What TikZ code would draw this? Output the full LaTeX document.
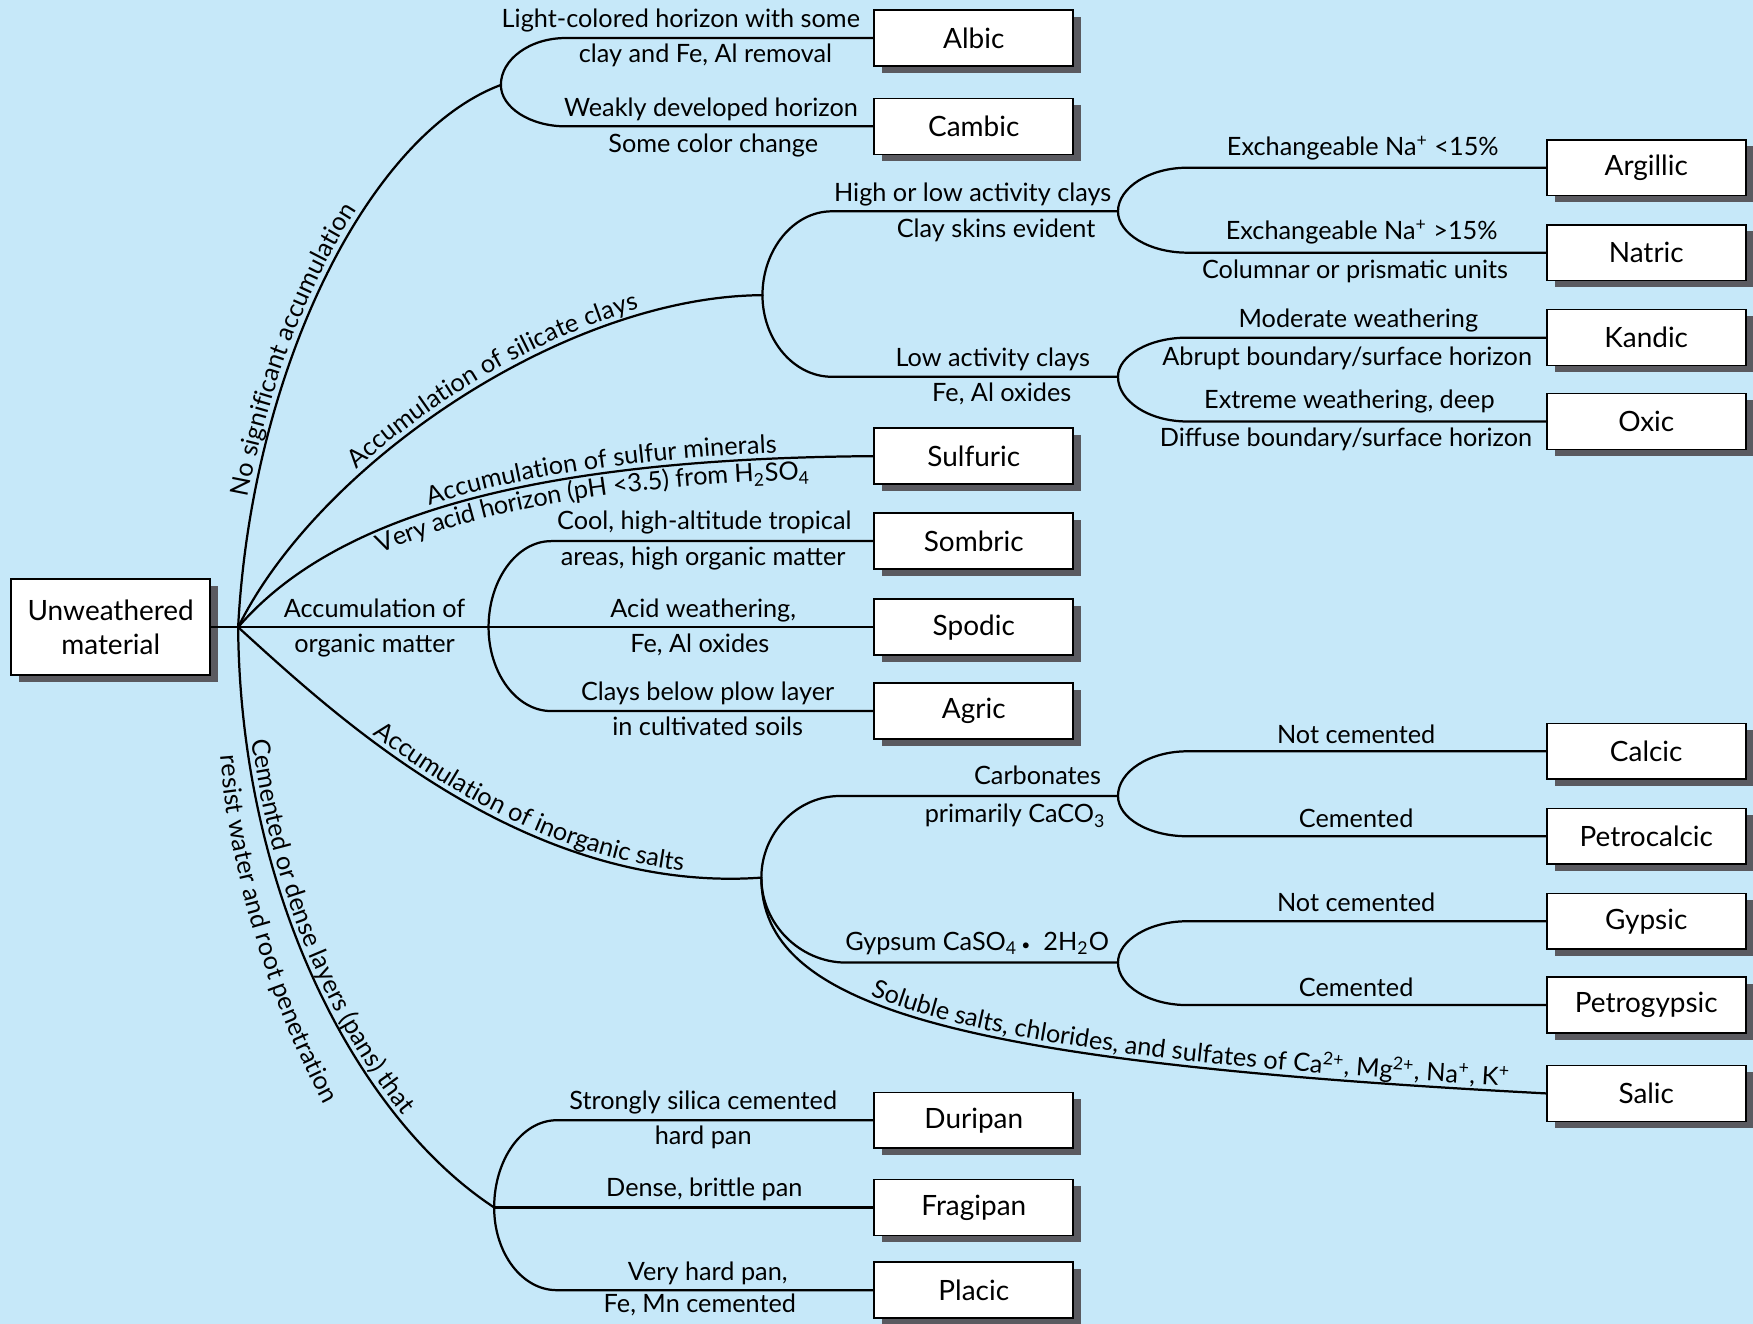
\documentclass[tikz,border=0pt]{standalone}
\usepackage{fontspec}
\setmainfont{Lato}
\usetikzlibrary{shadows,decorations.text}
\definecolor{bgblue}{RGB}{198,232,249}
\definecolor{shadowgray}{RGB}{90,90,96}
\newcommand\lblsize{\fontsize{11.3}{13}\selectfont}
\newcommand\boxsize{\fontsize{12.5}{15}\selectfont}

\begin{document}
\begin{tikzpicture}[x=0.5pt,y=-0.5pt,
  hbox/.style={draw=black, line width=0.7pt, fill=white, inner sep=0pt,
    minimum width=89pt, minimum height=25pt, font=\boxsize, align=center,
    drop shadow={shadow xshift=3.5pt, shadow yshift=-3pt, fill=shadowgray, opacity=1}},
  lbl/.style={font=\lblsize, inner sep=0pt, anchor=base},
  conn/.style={line width=1pt, line cap=round},
  alongabove/.style 2 args={decorate, decoration={text along path,
    text={|\lblsize|#2}, text align={left indent=#1}, raise=2.5pt}},
  alongbelow/.style 2 args={decorate, decoration={text along path,
    text={|\lblsize|#2}, text align={left indent=#1}, raise=-10pt}}
]
% background
\fill[bgblue] (0,0) rectangle (1568,1184);

% ---------- boxes ----------
\node[hbox, minimum height=43pt] (root) at (99,561) {Unweathered\\material};

\node[hbox] (albic)    at (871,34)   {Albic};
\node[hbox] (cambic)   at (871,113)  {Cambic};
\node[hbox] (sulfuric) at (871,408)  {Sulfuric};
\node[hbox] (sombric)  at (871,484)  {Sombric};
\node[hbox] (spodic)   at (871,561)  {Spodic};
\node[hbox] (agric)    at (871,636)  {Agric};
\node[hbox] (duripan)  at (871,1002) {Duripan};
\node[hbox] (fragipan) at (871,1080) {Fragipan};
\node[hbox] (placic)   at (871,1154) {Placic};

\node[hbox] (argillic)    at (1472.5,150) {Argillic};
\node[hbox] (natric)      at (1472.5,226) {Natric};
\node[hbox] (kandic)      at (1472.5,302) {Kandic};
\node[hbox] (oxic)        at (1472.5,377) {Oxic};
\node[hbox] (calcic)      at (1472.5,672) {Calcic};
\node[hbox] (petrocalcic) at (1472.5,748) {Petrocalcic};
\node[hbox] (gypsic)      at (1472.5,824) {Gypsic};
\node[hbox] (petrogypsic) at (1472.5,899) {Petrogypsic};
\node[hbox] (salic)       at (1472.5,978) {Salic};

% ---------- junctions ----------
\coordinate (hub) at (213,561);
\coordinate (fA) at (448,76);
\coordinate (fB) at (682,264);
\coordinate (fC) at (1000,189);
\coordinate (fD) at (1000,337);
\coordinate (fE) at (437,561);
\coordinate (fF) at (681,785);
\coordinate (fG) at (1000,712);
\coordinate (fH) at (1000,861);
\coordinate (fI) at (442,1080);

% ---------- main branches from the hub ----------
\draw[conn] (root.east) -- (hub) -- (fE) -- (spodic.west);
\draw[conn] (hub) .. controls (225,330) and (330,120) .. (fA);
\draw[conn] (hub) .. controls (285,415) and (505,265) .. (fB);
\draw[conn] (hub) .. controls (300,460) and (480,410) .. (sulfuric.west);
\draw[conn] (hub) .. controls (300,640) and (470,800) .. (fF);
\draw[conn] (hub) .. controls (215,800) and (320,1000) .. (fI);
\draw[conn] (fF) .. controls (681,900) and (850,950) .. (salic.west);

% ---------- forks ----------
\draw[conn] (fA) .. controls (448,53) and (474,34) .. (506,34) -- (albic.west);
\draw[conn] (fA) .. controls (448,96) and (474,113) .. (506,113) -- (cambic.west);

\draw[conn] (fB) .. controls (682,223) and (710,189) .. (744,189) -- (fC);
\draw[conn] (fB) .. controls (682,304) and (710,337) .. (744,337) -- (fD);
\draw[conn] (fC) .. controls (1000,168) and (1028,150) .. (1062,150) -- (argillic.west);
\draw[conn] (fC) .. controls (1000,209) and (1028,226) .. (1062,226) -- (natric.west);
\draw[conn] (fD) .. controls (1000,318) and (1028,302) .. (1062,302) -- (kandic.west);
\draw[conn] (fD) .. controls (1000,359) and (1028,377) .. (1062,377) -- (oxic.west);

\draw[conn] (fE) .. controls (437,519) and (462,484) .. (493,484) -- (sombric.west);
\draw[conn] (fE) .. controls (437,602) and (462,636) .. (493,636) -- (agric.west);

\draw[conn] (fF) .. controls (681,745) and (713,712) .. (751,712) -- (fG);
\draw[conn] (fF) .. controls (681,826) and (715,861) .. (757,861) -- (fH);
\draw[conn] (fG) .. controls (1000,690) and (1028,672) .. (1062,672) -- (calcic.west);
\draw[conn] (fG) .. controls (1000,732) and (1028,748) .. (1062,748) -- (petrocalcic.west);
\draw[conn] (fH) .. controls (1000,841) and (1028,824) .. (1062,824) -- (gypsic.west);
\draw[conn] (fH) .. controls (1000,882) and (1028,899) .. (1062,899) -- (petrogypsic.west);

\draw[conn] (fI) .. controls (442,1037) and (467,1002) .. (498,1002) -- (duripan.west);
\draw[conn] (fI) -- (fragipan.west);
\draw[conn] (fI) .. controls (442,1121) and (467,1154) .. (498,1154) -- (placic.west);

% ---------- labels set along the curved branches ----------
\path[alongabove={58pt}{No significant accumulation}]
  (hub) .. controls (225,330) and (330,120) .. (fA);
\path[alongabove={88pt}{Accumulation of silicate clays}]
  (hub) .. controls (285,415) and (505,265) .. (fB);
\path[alongabove={102pt}{Accumulation of sulfur minerals}]
  (hub) .. controls (300,460) and (480,410) .. (sulfuric.west);
\path[alongbelow={74pt}{Very acid horizon (pH <3.5) from H{\textsubscript{2}}SO{\textsubscript{4}}}]
  (hub) .. controls (300,460) and (480,410) .. (sulfuric.west);
\path[alongabove={77pt}{Accumulation of inorganic salts}]
  (hub) .. controls (300,640) and (470,800) .. (fF);
\path[alongabove={51pt}{Cemented or dense layers (pans) that}]
  (hub) .. controls (215,800) and (320,1000) .. (fI);
% the second line of that label runs a little straighter than the branch
\coordinate (panA) at (197,676);
\coordinate (panB) at (305,1015);
\path[decorate, decoration={text along path, text={|\lblsize|resist water and root penetration},
    text align={left indent=0pt}, raise=0pt}]
  (panA) .. controls (206,790) and (248,920) .. (panB);
\path[alongabove={78pt}{Soluble salts, chlorides, and sulfates of Ca{\textsuperscript{2+}}, Mg{\textsuperscript{2+}}, Na{\textsuperscript{+}}, K{\textsuperscript{+}}}]
  (fF) .. controls (681,900) and (850,950) .. (salic.west);

% ---------- straight labels ----------
\node[lbl] (tAlb1) at (609,25)  {Light-colored horizon with some};
\node[lbl] (tAlb2) at (631,56)  {clay and Fe, Al removal};
\node[lbl] (tCam1) at (636,104) {Weakly developed horizon};
\node[lbl] (tCam2) at (638,136) {Some color change};
\node[lbl] (tHi1)  at (870,180) {High or low activity clays};
\node[lbl] (tHi2)  at (891,212) {Clay skins evident};
\node[lbl] (tLo1)  at (888,328) {Low activity clays};
\node[lbl] (tLo2)  at (896,359) {Fe, Al oxides};
\node[lbl] (tArg)  at (1219,139) {Exchangeable Na\textsuperscript{+} <15\%};
\node[lbl] (tNat1) at (1218,214) {Exchangeable Na\textsuperscript{+} >15\%};
\node[lbl] (tNat2) at (1212,249) {Columnar or prismatic units};
\node[lbl] (tKan1) at (1215,293) {Moderate weathering};
\node[lbl] (tKan2) at (1205,327) {Abrupt boundary/surface horizon};
\node[lbl] (tOx1)  at (1207,365) {Extreme weathering, deep};
\node[lbl] (tOx2)  at (1204,399) {Diffuse boundary/surface horizon};
\node[lbl] (tSom1) at (630,474) {Cool, high-altitude tropical};
\node[lbl] (tSom2) at (629,506) {areas, high organic matter};
\node[lbl] (tOrg1) at (335,552) {Accumulation of};
\node[lbl] (tOrg2) at (335,584) {organic matter};
\node[lbl] (tSpo1) at (629,552) {Acid weathering,};
\node[lbl] (tSpo2) at (626,584) {Fe, Al oxides};
\node[lbl] (tAgr1) at (633,627) {Clays below plow layer};
\node[lbl] (tAgr2) at (633,658) {in cultivated soils};
\node[lbl] (tCar1) at (928,702) {Carbonates};
\node[lbl] (tCar2) at (908,736) {primarily CaCO\textsubscript{3}};
\node[lbl] (tCal)  at (1213,665) {Not cemented};
\node[lbl] (tPca)  at (1213,740) {Cemented};
\node[lbl] (tGyp)  at (874,850) {Gypsum CaSO\textsubscript{4}\,{\scriptsize\textbullet}\ \ 2H\textsubscript{2}O};
\node[lbl] (tGys)  at (1213,815) {Not cemented};
\node[lbl] (tPgy)  at (1213,891) {Cemented};
\node[lbl] (tDur1) at (629,992)  {Strongly silica cemented};
\node[lbl] (tDur2) at (629,1024) {hard pan};
\node[lbl] (tFra)  at (630,1070) {Dense, brittle pan};
\node[lbl] (tPla1) at (633,1145) {Very hard pan,};
\node[lbl] (tPla2) at (626,1174) {Fe, Mn cemented};
\end{tikzpicture}
\end{document}
